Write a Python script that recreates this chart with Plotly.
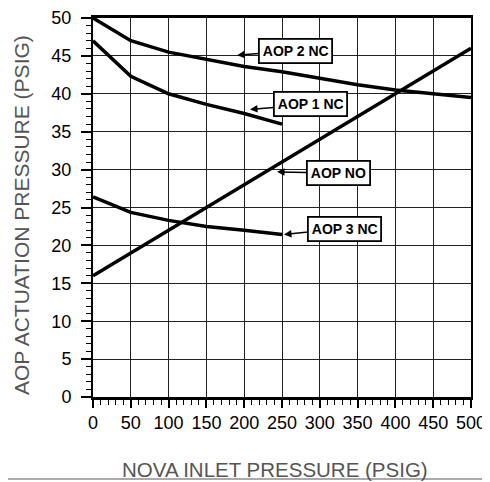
import plotly.graph_objects as go

# ---- data ----
inlet_nc = [0, 50, 100, 150, 200, 250, 300, 350, 400, 450, 500]
aop2_nc = [50.0, 47.0, 45.5, 44.5, 43.6, 42.9, 42.0, 41.2, 40.5, 40.0, 39.5]

inlet_short = [0, 50, 100, 150, 200, 250]
aop1_nc = [47.0, 42.3, 40.0, 38.6, 37.4, 36.0]
aop3_nc = [26.4, 24.35, 23.3, 22.5, 22.0, 21.45]

inlet_no = [0, 500]
aop_no = [16.0, 46.0]

x_ticks = [0, 50, 100, 150, 200, 250, 300, 350, 400, 450, 500]
y_ticks = [0, 5, 10, 15, 20, 25, 30, 35, 40, 45, 50]

FONT = "Liberation Sans, Arial, sans-serif"
LW = 3.5
# the page body has an 8px default margin, so the figure is drawn 8px smaller
PW, PH = 378, 379          # plot area size in px
ML, MT = 85, 10            # left / top margins
FW, FH = 482, 474          # figure size

fig = go.Figure()
for xs, ys in [(inlet_nc, aop2_nc), (inlet_short, aop1_nc),
               (inlet_short, aop3_nc), (inlet_no, aop_no)]:
    fig.add_trace(go.Scatter(x=xs, y=ys, mode="lines",
                             line=dict(color="black", width=LW),
                             showlegend=False, hoverinfo="skip"))

# labels: (text, tip_x, tip_y, text_x, text_y)
labels = [
    ("AOP 2 NC", 190.6, 45.1, 267.8, 45.7),
    ("AOP 1 NC", 207.7, 37.94, 287.6, 38.6),
    ("AOP NO", 243.4, 29.7, 324.2, 29.55),
    ("AOP 3 NC", 252.6, 21.44, 333.2, 22.23),
]
for txt, tx, ty, lx, ly in labels:
    fig.add_annotation(x=tx, y=ty, ax=lx, ay=ly, axref="x", ayref="y",
                       xref="x", yref="y", text="<b>%s</b>" % txt,
                       showarrow=True, arrowhead=2, arrowsize=1,
                       arrowwidth=1.5, arrowcolor="black",
                       font=dict(family=FONT, size=14, color="black"),
                       bgcolor="white", bordercolor="black",
                       borderwidth=1.8, borderpad=3)

# axis titles (positions relative to the plot area)
fig.add_annotation(text="NOVA INLET PRESSURE (PSIG)", xref="paper", yref="paper",
                   x=(275 - 93) / PW, y=(397 - 469.5) / PH,
                   showarrow=False, xanchor="center", yanchor="middle",
                   font=dict(family=FONT, size=20.5, color="#555555"))
fig.add_annotation(text="AOP ACTUATION PRESSURE (PSIG)", xref="paper", yref="paper",
                   x=(21 - 93) / PW, y=(397 - 215) / PH, textangle=-90,
                   showarrow=False, xanchor="center", yanchor="middle",
                   font=dict(family=FONT, size=21, color="#555555"))

# bottom gray rule
fig.add_shape(type="line", xref="paper", yref="paper",
              x0=-(ML + 8) / PW, x1=(FW - ML) / PW,
              y0=(397 - 479) / PH, y1=(397 - 479) / PH,
              line=dict(color="#aaaaaa", width=2))

fig.update_xaxes(range=[0, 500], tickvals=x_ticks, ticktext=[str(v) for v in x_ticks],
                 showgrid=True, gridcolor="#222222", gridwidth=1.2,
                 showline=True, linecolor="black", linewidth=2.5, mirror=True,
                 ticks="outside", ticklen=8, tickwidth=1.5, tickcolor="black",
                 minor=dict(dtick=10, ticks="outside", ticklen=5, tickwidth=1,
                            tickcolor="black", showgrid=False),
                 tickfont=dict(family=FONT, size=18, color="black"),
                 zeroline=False, fixedrange=True, automargin=False)
fig.update_yaxes(range=[0, 50], tickvals=y_ticks, ticktext=[str(v) for v in y_ticks],
                 showgrid=True, gridcolor="#222222", gridwidth=1.2,
                 showline=True, linecolor="black", linewidth=2, mirror=True,
                 ticks="outside", ticklen=10, tickwidth=1.5, tickcolor="black",
                 ticklabelstandoff=6,
                 minor=dict(dtick=1, ticks="outside", ticklen=5, tickwidth=1,
                            tickcolor="black", showgrid=False),
                 tickfont=dict(family=FONT, size=18, color="black"),
                 zeroline=False, fixedrange=True, automargin=False)

fig.update_layout(width=FW, height=FH,
                  margin=dict(l=ML, r=FW - ML - PW, t=MT, b=FH - MT - PH),
                  paper_bgcolor="white", plot_bgcolor="white",
                  font=dict(family=FONT), showlegend=False)

fig.write_html("out.html", config={"displayModeBar": False})
